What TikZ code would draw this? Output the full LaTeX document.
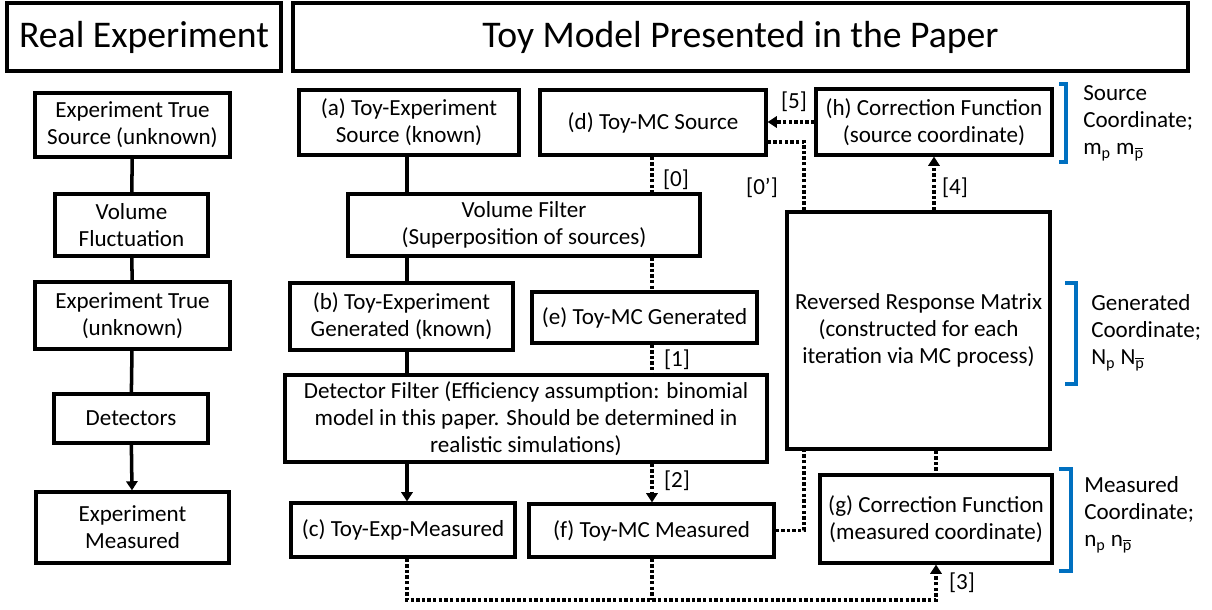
\documentclass[tikz,border=0pt]{standalone}
\usepackage{fontspec}
\setmainfont{Carlito}
\usetikzlibrary{arrows.meta,calc}

\definecolor{bracketblue}{RGB}{0,112,192}
\newcommand\pbar{$\overline{\mbox{p}}$}
% box from corner (x1,y1) to corner (x2,y2), in pixel units
\newcommand\mkbox[6]{%
  \node[blockbox, minimum width={(#4-#2)*0.025cm}, minimum height={(#5-#3)*0.025cm}]
    (#1) at ({(#2+#4)/2},{(#3+#5)/2}) {#6};}

\begin{document}
\begin{tikzpicture}[x=0.025cm, y=-0.025cm,
  blockbox/.style={draw, line width=2.3pt, inner sep=0pt, align=center,
    font=\fontsize{16.4pt}{19.2pt}\selectfont},
  titlebox/.style={blockbox, font=\fontsize{26.8pt}{30pt}\selectfont},
  solidlink/.style={line width=2.5pt},
  dotlink/.style={line width=2.6pt, dash pattern=on 2.4pt off 1.6pt},
  tip/.style={-{Triangle[width=8pt,length=6.5pt]}},
  steplabel/.style={inner sep=0pt, font=\fontsize{16.4pt}{19.2pt}\selectfont},
  sidenote/.style={inner sep=0pt, anchor=west, align=left,
    font=\fontsize{16.4pt}{19.2pt}\selectfont},
  bracket/.style={draw=bracketblue, line width=2.6pt}]

\useasboundingbox (0,0) rectangle (1212,610);

% headings
\node[titlebox, minimum width={274*0.025cm}, minimum height={68*0.025cm}]
  (realhead) at (144,37) {Real Experiment};
\node[titlebox, minimum width={895*0.025cm}, minimum height={68*0.025cm}]
  (toyhead) at (740.5,37) {Toy Model Presented in the Paper};

% real experiment chain
\mkbox{ets}{35}{93}{230}{157}{Experiment True\\Source (unknown)}
\mkbox{vfl}{55}{194}{208}{256}{Volume\\Fluctuation}
\mkbox{etu}{35}{282}{230}{349}{Experiment True\\(unknown)}
\mkbox{det}{54}{394}{208}{443}{Detectors}
\mkbox{exm}{36}{492}{229}{563}{Experiment\\Measured}

\draw[solidlink] (ets) -- (vfl);
\draw[solidlink] (vfl) -- (etu);
\draw[solidlink] (etu) -- (det);
\draw[solidlink, tip] (det) -- (exm);

% toy model boxes
\mkbox{a}{299}{90}{519}{155}{(a) Toy-Experiment\\Source (known)}
\mkbox{d}{540}{90}{766}{155}{(d) Toy-MC Source}
\mkbox{h}{816}{89}{1052}{155}{(h) Correction Function\\(source coordinate)}
\mkbox{vf}{348}{194}{700}{256}{Volume Filter\\(Superposition of sources)}
\mkbox{rrm}{787}{212}{1050}{449}{Reversed Response Matrix\\(constructed for each\\iteration via MC process)}
\mkbox{b}{290}{283}{513}{350}{(b) Toy-Experiment\\Generated (known)}
\mkbox{e}{532}{292}{757}{343}{(e) Toy-MC Generated}
\mkbox{df}{285}{375}{767}{462}{Detector Filter (Efficiency assumption: binomial\\model in this paper. Should be determined in\\realistic simulations)}
\mkbox{c}{291}{503}{515}{557}{(c) Toy-Exp-Measured}
\mkbox{f}{529}{504}{774}{557}{(f) Toy-MC Measured}
\mkbox{g}{820}{475}{1052}{563}{(g) Correction Function\\(measured coordinate)}

% routing columns and rows
\coordinate (colA) at (407,0);
\coordinate (colD) at (652,0);
\coordinate (colB) at (804,0);
\coordinate (rowTop) at (0,142);
\coordinate (rowBot) at (0,600);

% toy experiment chain
\draw[solidlink] (a.south -| colA) -- (vf.north -| colA);
\draw[solidlink] (vf.south -| colA) -- (b.north -| colA);
\draw[solidlink] (b.south -| colA) -- (df.north -| colA);
\draw[solidlink, tip] (df.south -| colA) -- (c.north -| colA);

% toy MC chain
\draw[dotlink] (d.south -| colD) -- (vf.north -| colD);
\draw[dotlink] (vf.south -| colD) -- (e.north -| colD);
\draw[dotlink] (e.south -| colD) -- (df.north -| colD);
\draw[dotlink, tip] (df.south -| colD) -- (f.north -| colD);

% response matrix loop
\draw[dotlink] (rrm.north -| colB) -- (colB |- rowTop) -- (d.east |- rowTop);
\draw[dotlink] (f.east) -- (f.east -| colB) -- (rrm.south -| colB);
\draw[dotlink, tip] (rrm.north -| h.south) -- (h.south);
\draw[dotlink, tip] (h.west) -- (h.west -| d.east);
\draw[dotlink] (rrm.south -| g.north) -- (g.north);
\draw[dotlink, tip] (c.south -| colA) -- (colA |- rowBot) -- (g.south |- rowBot) -- (g.south);
\draw[dotlink] (f.south -| colD) -- (colD |- rowBot);

% step labels
\node[steplabel] (l0) at (676,180) {[0]};
\node[steplabel] (l1) at (677,360) {[1]};
\node[steplabel] (l2) at (677,481) {[2]};
\node[steplabel] (l0p) at (762,188) {[0’]};
\node[steplabel] (l5) at (794,102) {[5]};
\node[steplabel] (l4) at (955,188) {[4]};
\node[steplabel] (l3) at (962,583) {[3]};

% coordinate brackets and notes
\draw[bracket] (1059,84) -- (1066,84) -- (1066,162) -- (1059,162);
\draw[bracket] (1065,283) -- (1076,283) -- (1076,384) -- (1065,384);
\draw[bracket] (1059,469) -- (1071,469) -- (1071,571) -- (1059,571);

\node[sidenote] (srcnote) at (1083,123)
  {Source\\Coordinate;\\m\textsubscript{p} m\textsubscript{\pbar}};
\node[sidenote] (gennote) at (1091,333)
  {Generated\\Coordinate;\\N\textsubscript{p} N\textsubscript{\pbar}};
\node[sidenote] (meanote) at (1084,515)
  {Measured\\Coordinate;\\n\textsubscript{p} n\textsubscript{\pbar}};

\end{tikzpicture}
\end{document}
